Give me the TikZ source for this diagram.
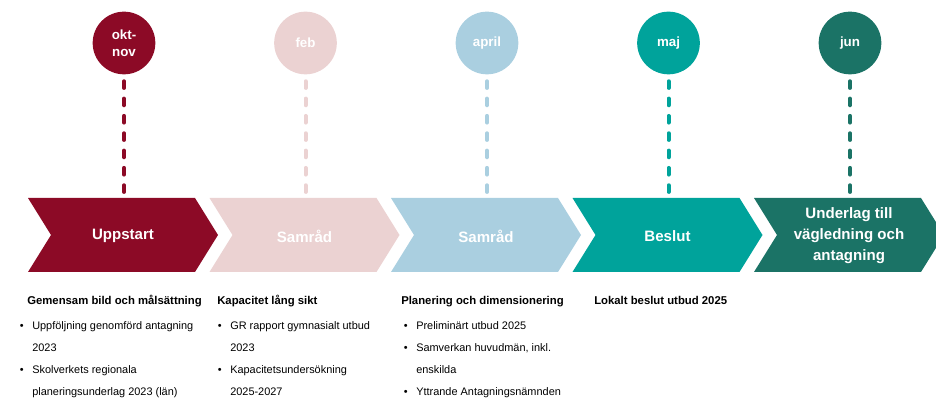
\documentclass[tikz,border=0pt]{standalone}
\usepackage{fontspec}
\setmainfont{Liberation Sans}
\usepackage{xcolor}
\usepackage{tikz}
\usetikzlibrary{positioning,calc}

\definecolor{wine}{HTML}{8C0A26}
\definecolor{rose}{HTML}{EBD2D2}
\definecolor{sky}{HTML}{AACFE0}
\definecolor{sea}{HTML}{00A39B}
\definecolor{pine}{HTML}{1B7366}
\newcommand{\itm}{\llap{\textbullet\hspace{6.5pt}}}

\begin{document}
\begin{tikzpicture}[x=0.75pt, y=-0.75pt,
    month/.style={circle, minimum size=47pt, inner sep=0pt, text=white, align=center, font=\bfseries\fontsize{10}{13}\selectfont},
    phase/.style={text=white, align=center, inner sep=0pt, font=\bfseries\fontsize{11.3}{15.75}\selectfont},
    link/.style={line width=3pt, line cap=round, dash pattern=on 5pt off 8pt},
    head/.style={anchor=base west, inner sep=0pt, font=\bfseries\fontsize{8.5}{10}\selectfont},
    items/.style={anchor=north west, align=left, inner sep=0pt, font=\fontsize{8.2}{16.5}\selectfont}]
    \clip (0,0) rectangle (936,398);

    % chevrons
    \fill[wine] (28,198) -- ++(167,0) -- ++(23,37) -- ++(-23,37) -- ++(-167,0) -- ++(23,-37) -- cycle;
    \fill[rose] (209.5,198) -- ++(167,0) -- ++(23,37) -- ++(-23,37) -- ++(-167,0) -- ++(23,-37) -- cycle;
    \fill[sky] (391,198) -- ++(167,0) -- ++(23,37) -- ++(-23,37) -- ++(-167,0) -- ++(23,-37) -- cycle;
    \fill[sea] (572.5,198) -- ++(167,0) -- ++(23,37) -- ++(-23,37) -- ++(-167,0) -- ++(23,-37) -- cycle;
    \fill[pine] (754,198) -- ++(167,0) -- ++(23,37) -- ++(-23,37) -- ++(-167,0) -- ++(23,-37) -- cycle;

    \node[phase] (p1) at (123,236) {Uppstart};
    \node[phase] (p2) at (304.5,236) {Samråd};
    \node[phase] (p3) at (486,236) {Samråd};
    \node[phase] (p4) at (667.5,236) {Beslut};
    \node[phase] (p5) at (849,236) {Underlag till\\vägledning och\\antagning};

    \coordinate (t1) at (124,198);
    \coordinate (t2) at (305.5,198);
    \coordinate (t3) at (487,198);
    \coordinate (t4) at (668.5,198);
    \coordinate (t5) at (850,198);

    % months
    \node[month, fill=wine] (m1) at (124,43) {okt-\\nov};
    \node[month, fill=rose] (m2) at (305.5,43) {feb};
    \node[month, fill=sky] (m3) at (487,43) {april};
    \node[month, fill=sea] (m4) at (668.5,43) {maj};
    \node[month, fill=pine] (m5) at (850,43) {jun};

    \draw[link, wine] ([yshift=-5pt]m1.south) -- (t1);
    \draw[link, rose] ([yshift=-5pt]m2.south) -- (t2);
    \draw[link, sky] ([yshift=-5pt]m3.south) -- (t3);
    \draw[link, sea] ([yshift=-5pt]m4.south) -- (t4);
    \draw[link, pine] ([yshift=-5pt]m5.south) -- (t5);

    % texts below
    \node[head] (h1) at (27,305) {Gemensam bild och målsättning};
    \node[head] (h2) at (217,305) {Kapacitet lång sikt};
    \node[head] (h3) at (401,305) {Planering och dimensionering};
    \node[head] (h4) at (594,305) {Lokalt beslut utbud 2025};

    \node[items] (l1) at (32,321) {\itm Uppföljning genomförd antagning\\2023\\\itm Skolverkets regionala\\planeringsunderlag 2023 (län)};
    \node[items] (l2) at (230,321) {\itm GR rapport gymnasialt utbud\\2023\\\itm Kapacitetsundersökning\\2025-2027};
    \node[items] (l3) at (416,321) {\itm Preliminärt utbud 2025\\\itm Samverkan huvudmän, inkl.\\enskilda\\\itm Yttrande Antagningsnämnden};
\end{tikzpicture}
\end{document}
